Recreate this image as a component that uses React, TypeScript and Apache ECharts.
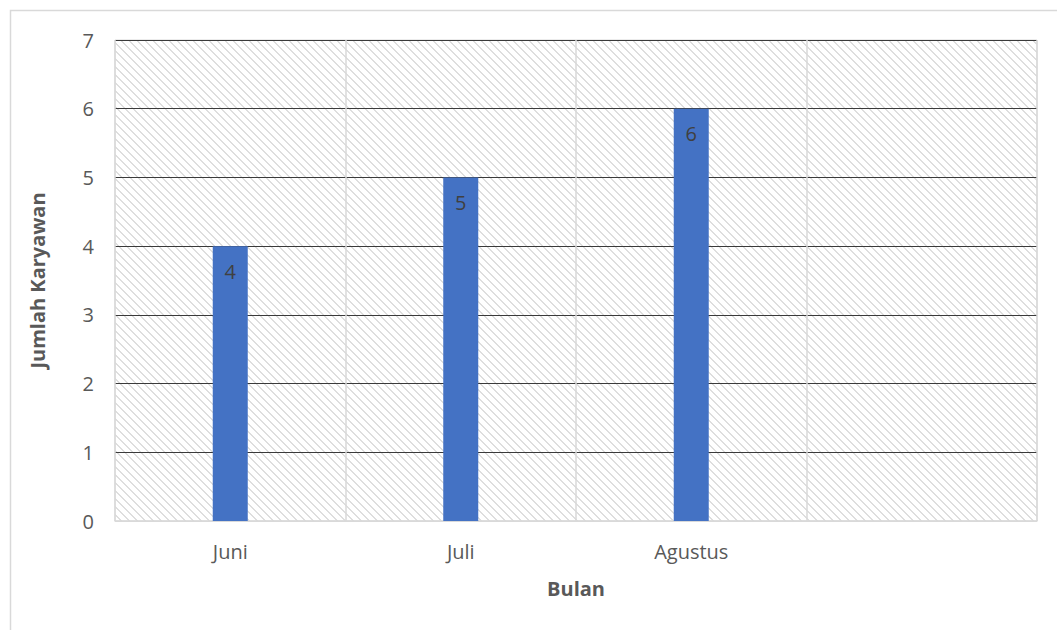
import React, { useEffect, useRef } from "react";
import * as echarts from "echarts";

const categories = ["Juni", "Juli", "Agustus", ""];
const values: (number | null)[] = [4, 5, 6, null];
const yTicks = { min: 0, max: 7, interval: 1 };

function makePattern(): HTMLCanvasElement {
  const c = document.createElement("canvas");
  c.width = 8;
  c.height = 8;
  const ctx = c.getContext("2d")!;
  ctx.fillStyle = "#ffffff";
  ctx.fillRect(0, 0, 8, 8);
  ctx.fillStyle = "#dedede";
  for (let i = 0; i < 8; i++) {
    ctx.fillRect(i, i, 1, 1);
    ctx.fillRect((i + 1) % 8, i, 1, 1);
  }
  return c;
}

export default function App() {
  const ref = useRef<HTMLDivElement>(null);
  useEffect(() => {
    if (!ref.current) return;
    const chart = echarts.init(ref.current, undefined, { renderer: "svg" });
    const font = "'Open Sans', sans-serif";
    chart.setOption({
      animation: false,
      textStyle: { fontFamily: font },
      graphic: [
        {
          type: "rect",
          z: -10,
          shape: { x: 10.5, y: 10.5, width: 1100, height: 700 },
          style: { fill: "none", stroke: "#d9d9d9", lineWidth: 1.5 },
        },
      ],
      grid: {
        left: 115,
        top: 40,
        width: 922,
        height: 481,
        show: true,
        borderColor: "#d9d9d9",
        borderWidth: 1,
        backgroundColor: { image: makePattern(), repeat: "repeat" },
      },
      xAxis: {
        type: "category",
        data: categories,
        boundaryGap: true,
        name: "Bulan",
        nameLocation: "middle",
        nameGap: 57,
        nameTextStyle: { fontSize: 20, fontWeight: "bold", color: "#595959", fontFamily: font },
        axisLine: { show: true, lineStyle: { color: "#d9d9d9", width: 1.5 } },
        axisTick: { show: false },
        axisLabel: { fontSize: 20, color: "#595959", margin: 20, fontFamily: font },
        splitLine: { show: true, lineStyle: { color: "#d9d9d9", width: 1.5 } },
      },
      yAxis: {
        type: "value",
        min: yTicks.min,
        max: yTicks.max,
        interval: yTicks.interval,
        name: "Jumlah Karyawan",
        nameLocation: "middle",
        nameGap: 68,
        nameTextStyle: { fontSize: 20, fontWeight: "bold", color: "#595959", fontFamily: font },
        axisLine: { show: false },
        axisTick: { show: false },
        axisLabel: { fontSize: 20, color: "#595959", margin: 21, fontFamily: font },
        splitLine: {
          show: true,
          lineStyle: {
            color: ["#d9d9d9", "#3a3a3a", "#3a3a3a", "#3a3a3a", "#3a3a3a", "#3a3a3a", "#3a3a3a", "#3a3a3a"],
            width: 1.2,
          },
        },
      },
      series: [
        {
          type: "bar",
          data: values,
          barWidth: 35,
          itemStyle: { color: "#4472C4" },
          label: {
            show: true,
            position: "insideTop",
            distance: 15,
            fontSize: 20,
            color: "#404040",
            fontFamily: font,
          },
        },
      ],
    });
    return () => chart.dispose();
  }, []);
  return (
    <div
      ref={ref}
      style={{ position: "absolute", left: 0, top: 0, width: 1057, height: 630, background: "#fff" }}
    />
  );
}
